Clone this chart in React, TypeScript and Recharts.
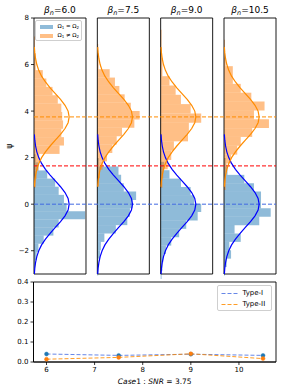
import React from 'react';
import {
  ScatterChart,
  Scatter,
  XAxis,
  YAxis,
  ReferenceArea,
  ReferenceLine,
  LineChart,
  Line,
} from 'recharts';

// ---------- data ----------
const BETA_LABELS = ['6.0', '7.5', '9.0', '10.5'];
const H0_MEAN = 0;
const H1_MEAN = 3.75;
const THRESHOLD = 1.645;

// standard normal pdf shape (z, density)
const PDF_Z = [-3, -2.75, -2.5, -2.25, -2, -1.75, -1.5, -1.25, -1, -0.75, -0.5, -0.25, 0,
  0.25, 0.5, 0.75, 1, 1.25, 1.5, 1.75, 2, 2.25, 2.5, 2.75, 3];
const PDF_VAL = [0.004, 0.009, 0.018, 0.032, 0.054, 0.086, 0.13, 0.183, 0.242, 0.301, 0.352, 0.387, 0.399,
  0.387, 0.352, 0.301, 0.242, 0.183, 0.13, 0.086, 0.054, 0.032, 0.018, 0.009, 0.004];

// histogram bins: first lower edge, bin width, densities (bottom -> top)
const BLUE_START = [-2.75, -3.06, -3.22, -3.06];
const BLUE_WIDTH = [0.35, 0.36, 0.36, 0.36];
const P1_BLUE = [0.01, 0.03, 0.05, 0.11, 0.22, 0.28, 0.58, 0.37, 0.34, 0.28, 0.24, 0.15, 0.05, 0.02];
const P2_BLUE = [0.01, 0.01, 0.03, 0.04, 0.08, 0.21, 0.34, 0.37, 0.4, 0.44, 0.3, 0.27, 0.24, 0.02];
const P3_BLUE = [0.01, 0.02, 0.03, 0.06, 0.12, 0.21, 0.29, 0.42, 0.46, 0.38, 0.34, 0.23, 0.1, 0.04];
const P4_BLUE = [0.01, 0.03, 0.08, 0.06, 0.19, 0.12, 0.4, 0.53, 0.42, 0.42, 0.34, 0.23, 0.04, 0.02];

const ORANGE_START = [0.72, 0.76, 0.7, 0.61];
const ORANGE_WIDTH = [0.36, 0.36, 0.4, 0.38];
const P1_ORANGE = [0.02, 0.03, 0.05, 0.06, 0.29, 0.34, 0.31, 0.33, 0.32, 0.31, 0.27, 0.21, 0.14, 0.1, 0.02, 0.02, 0.01, 0.01];
const P2_ORANGE = [0.02, 0.03, 0.06, 0.11, 0.17, 0.22, 0.28, 0.42, 0.48, 0.38, 0.31, 0.25, 0.2, 0.14, 0.015, 0.015, 0.01];
const P3_ORANGE = [0.02, 0.03, 0.08, 0.12, 0.15, 0.31, 0.32, 0.46, 0.34, 0.23, 0.17, 0.1, 0.02, 0.02, 0.015, 0.01, 0.01];
const P4_ORANGE = [0.02, 0.02, 0.03, 0.08, 0.15, 0.19, 0.32, 0.51, 0.34, 0.46, 0.31, 0.19, 0.1, 0.1, 0.02, 0.01, 0.01];

const BLUE_DENS = [P1_BLUE, P2_BLUE, P3_BLUE, P4_BLUE];
const ORANGE_DENS = [P1_ORANGE, P2_ORANGE, P3_ORANGE, P4_ORANGE];

// bottom chart
const SNR_BETA = [6, 7.5, 9, 10.5];
const TYPE_I = [0.04, 0.033, 0.039, 0.033];
const TYPE_II = [0.014, 0.023, 0.041, 0.017];

// ---------- layout helpers ----------
const PANEL_W = 0.59;
const PANEL_GAP = 0.1286;
const TOTAL_W = 4 * PANEL_W + 3 * PANEL_GAP;
const OFFSETS = [0, 1, 2, 3].map((i) => i * (PANEL_W + PANEL_GAP));

const FONT = 'DejaVu Sans, Liberation Sans, sans-serif';
const BLUE_FILL = '#1f77b4';
const ORANGE_FILL = '#ff7f0e';

const fmtMinus = (v: number) => (v < 0 ? '\u2212' + Math.abs(v) : String(v));

const bins = (start: number, width: number, dens: number[]) =>
  dens.map((d, k) => ({ lo: start + k * width, hi: start + (k + 1) * width, d }));

const curve = (mean: number, off: number) =>
  PDF_Z.map((z, k) => ({ x: off + PDF_VAL[k], y: mean + z }));

const bottomData = SNR_BETA.map((b, i) => ({ beta: b, t1: TYPE_I[i], t2: TYPE_II[i] }));

const NoShape = () => <g />;

const makeTitle = (label: string) => (props: any) => {
  const vb = props && props.viewBox;
  if (!vb) return null;
  const cx = vb.x + vb.width / 2;
  return (
    <text x={cx} y={vb.y - 5} textAnchor="middle" fontSize={9} fontFamily={FONT} fill="#000">
      <tspan fontStyle="italic">β</tspan>
      <tspan fontStyle="italic" fontSize={6.5} dy={2}>n</tspan>
      <tspan dy={-2}>={label}</tspan>
    </text>
  );
};

const xLabel = (props: any) => {
  const vb = props && props.viewBox;
  if (!vb) return null;
  const cx = vb.x + vb.width / 2;
  return (
    <text x={cx} y={vb.y + vb.height - 0.5} textAnchor="middle" fontSize={7.5} fontFamily={FONT} fill="#000">
      <tspan fontStyle="italic">Case</tspan>
      <tspan>1 : </tspan>
      <tspan fontStyle="italic">SNR</tspan>
      <tspan> = 3.75</tspan>
    </text>
  );
};

export default function App() {
  return (
    <div style={{ position: 'absolute', left: 0, top: 0, width: 285, height: 392, background: '#fff', fontFamily: FONT }}>
      {/* top: four histogram panels */}
      <div style={{ position: 'absolute', left: 0, top: 0 }}>
        <ScatterChart width={285} height={280} margin={{ top: 18, right: 9, bottom: 6, left: 4 }}>
          <XAxis type="number" dataKey="x" domain={[0, TOTAL_W]} hide allowDataOverflow />
          <YAxis
            type="number"
            dataKey="y"
            domain={[-3, 8]}
            ticks={[-2, 0, 2, 4, 6, 8]}
            interval={0}
            width={30}
            tickSize={3}
            tickMargin={2}
            axisLine={false}
            tickLine={{ stroke: '#000', strokeWidth: 0.8 }}
            tick={{ fontSize: 7, fill: '#000', fontFamily: FONT }}
            tickFormatter={fmtMinus}
            allowDataOverflow
          />
          {OFFSETS.map((off, i) =>
            bins(BLUE_START[i], BLUE_WIDTH[i], BLUE_DENS[i]).map((b, k) => (
              <ReferenceArea
                key={`b${i}-${k}`}
                x1={off}
                x2={off + b.d}
                y1={b.lo}
                y2={b.hi}
                fill={BLUE_FILL}
                fillOpacity={0.5}
                stroke="none"
                ifOverflow="visible"
              />
            ))
          )}
          {OFFSETS.map((off, i) =>
            bins(ORANGE_START[i], ORANGE_WIDTH[i], ORANGE_DENS[i]).map((b, k) => (
              <ReferenceArea
                key={`o${i}-${k}`}
                x1={off}
                x2={off + b.d}
                y1={b.lo}
                y2={b.hi}
                fill={ORANGE_FILL}
                fillOpacity={0.5}
                stroke="none"
                ifOverflow="visible"
              />
            ))
          )}
          {OFFSETS.map((off, i) => (
            <Scatter
              key={`cb${i}`}
              data={curve(H0_MEAN, off)}
              line={{ stroke: '#0000ff', strokeWidth: 1.2 }}
              lineType="joint"
              shape={NoShape}
              fill="none"
              isAnimationActive={false}
            />
          ))}
          {OFFSETS.map((off, i) => (
            <Scatter
              key={`co${i}`}
              data={curve(H1_MEAN, off)}
              line={{ stroke: '#ff8c00', strokeWidth: 1.2 }}
              lineType="joint"
              shape={NoShape}
              fill="none"
              isAnimationActive={false}
            />
          ))}
          <ReferenceLine y={H0_MEAN} stroke="#4169e1" strokeWidth={1} strokeDasharray="4 2" ifOverflow="visible" />
          <ReferenceLine y={H1_MEAN} stroke="#ff8c00" strokeWidth={1} strokeDasharray="4 2" ifOverflow="visible" />
          <ReferenceLine y={THRESHOLD} stroke="#ff0000" strokeWidth={1} strokeDasharray="4 2" ifOverflow="visible" />
          {OFFSETS.map((off, i) => (
            <ReferenceArea
              key={`s${i}`}
              x1={off}
              x2={off + PANEL_W}
              y1={-3}
              y2={8}
              fill="none"
              fillOpacity={0}
              stroke="#000"
              strokeWidth={0.9}
              ifOverflow="visible"
              label={{ content: makeTitle(BETA_LABELS[i]) }}
            />
          ))}
        </ScatterChart>
      </div>

      {/* y label psi */}
      <svg style={{ position: 'absolute', left: 0, top: 0 }} width={20} height={280}>
        <text x={9} y={146} transform="rotate(-90 9 146)" textAnchor="middle" dominantBaseline="middle" fontSize={8} fontFamily={FONT} fill="#000">
          ψ
        </text>
      </svg>

      {/* top legend */}
      <div
        style={{
          position: 'absolute',
          left: 35,
          top: 20,
          width: 47,
          height: 21,
          border: '0.6px solid #cfcfcf',
          borderRadius: 2,
          background: 'rgba(255,255,255,0.85)',
          fontSize: 5.5,
          fontFamily: FONT,
          color: '#000',
          boxSizing: 'border-box',
        }}
      >
        <div style={{ position: 'absolute', left: 4, top: 3.5, width: 13, height: 4.5, background: BLUE_FILL, opacity: 0.5 }} />
        <div style={{ position: 'absolute', left: 21.5, top: 2, lineHeight: '7px', whiteSpace: 'nowrap' }}>
          Ω<sub style={{ fontSize: 4, verticalAlign: -1 }}>1</sub> = Ω<sub style={{ fontSize: 4, verticalAlign: -1 }}>2</sub>
        </div>
        <div style={{ position: 'absolute', left: 4, top: 12.5, width: 13, height: 4.5, background: ORANGE_FILL, opacity: 0.5 }} />
        <div style={{ position: 'absolute', left: 21.5, top: 11, lineHeight: '7px', whiteSpace: 'nowrap' }}>
          Ω<sub style={{ fontSize: 4, verticalAlign: -1 }}>1</sub> ≠ Ω<sub style={{ fontSize: 4, verticalAlign: -1 }}>2</sub>
        </div>
      </div>

      {/* bottom: error rates */}
      <div style={{ position: 'absolute', left: 0, top: 276 }}>
        <LineChart width={285} height={116} data={bottomData} margin={{ top: 6, right: 9, bottom: 8, left: 8 }}>
          <XAxis
            type="number"
            dataKey="beta"
            domain={[5.73, 10.77]}
            ticks={[6, 7, 8, 9, 10]}
            interval={0}
            height={22}
            tickSize={3}
            tickMargin={2}
            axisLine={{ stroke: '#000', strokeWidth: 0.9 }}
            tickLine={{ stroke: '#000', strokeWidth: 0.8 }}
            tick={{ fontSize: 7, fill: '#000', fontFamily: FONT }}
            allowDataOverflow
            label={{ content: xLabel }}
          />
          <YAxis
            type="number"
            domain={[0, 0.4]}
            ticks={[0, 0.1, 0.2, 0.3, 0.4]}
            interval={0}
            width={25.5}
            tickSize={3}
            tickMargin={2}
            axisLine={{ stroke: '#000', strokeWidth: 0.9 }}
            tickLine={{ stroke: '#000', strokeWidth: 0.8 }}
            tick={{ fontSize: 7, fill: '#000', fontFamily: FONT }}
            tickFormatter={(v: number) => v.toFixed(1)}
            allowDataOverflow
          />
          <ReferenceArea x1={5.73} x2={10.77} y1={0} y2={0.4} fill="none" fillOpacity={0} stroke="#000" strokeWidth={0.9} ifOverflow="visible" />
          <Line
            dataKey="t1"
            name="Type-I"
            stroke="#4169e1"
            strokeOpacity={0.8}
            strokeWidth={1}
            strokeDasharray="4 2"
            dot={{ r: 2, fill: '#1f77b4', stroke: '#1f77b4', strokeWidth: 0.5, strokeDasharray: '' }}
            isAnimationActive={false}
          />
          <Line
            dataKey="t2"
            name="Type-II"
            stroke="#ff8c00"
            strokeOpacity={0.85}
            strokeWidth={1}
            strokeDasharray="4 2"
            dot={{ r: 2, fill: '#ff7f0e', stroke: '#ff7f0e', strokeWidth: 0.5, strokeDasharray: '' }}
            isAnimationActive={false}
          />
        </LineChart>
      </div>

      {/* bottom legend */}
      <div
        style={{
          position: 'absolute',
          left: 217,
          top: 285,
          width: 55,
          height: 26,
          border: '0.6px solid #cfcfcf',
          borderRadius: 2,
          background: 'rgba(255,255,255,0.85)',
          fontSize: 7,
          fontFamily: FONT,
          color: '#000',
          boxSizing: 'border-box',
        }}
      >
        <svg style={{ position: 'absolute', left: 2.5, top: 2 }} width={18} height={22}>
          <line x1={0.5} y1={5.5} x2={17} y2={5.5} stroke="#4169e1" strokeOpacity={0.8} strokeWidth={1} strokeDasharray="4 2" />
          <line x1={0.5} y1={16.5} x2={17} y2={16.5} stroke="#ff8c00" strokeOpacity={0.85} strokeWidth={1} strokeDasharray="4 2" />
        </svg>
        <div style={{ position: 'absolute', left: 24.5, top: 2.5, lineHeight: '8px', whiteSpace: 'nowrap' }}>Type-I</div>
        <div style={{ position: 'absolute', left: 24.5, top: 13.5, lineHeight: '8px', whiteSpace: 'nowrap' }}>Type-II</div>
      </div>
    </div>
  );
}
